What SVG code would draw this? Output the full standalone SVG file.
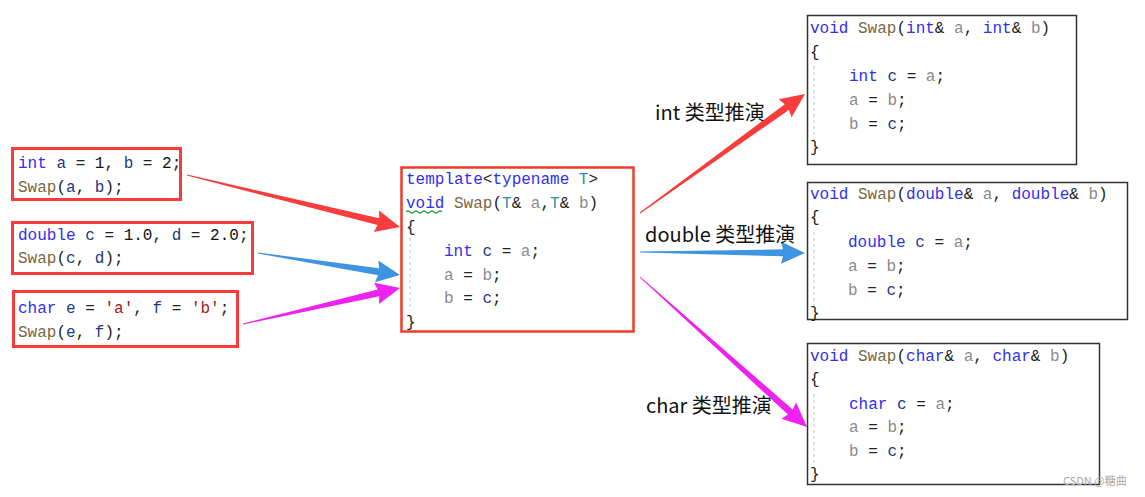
<svg xmlns="http://www.w3.org/2000/svg" width="1145" height="497" viewBox="0 0 1145 497">
<style>
.code{font-family:"Liberation Mono",monospace;font-size:16px;fill:#222;white-space:pre}
.kw{fill:#2f2ff0}
.fn{fill:#7a6642}
.lv{fill:#1f377f}
.pv{fill:#8a8a8a}
.ty{fill:#2b91af}
.st{fill:#a31515}
.num{fill:#111}
.redbox{fill:#fff;stroke:#fb3a3a;stroke-width:3}
.blkbox{fill:#fff;stroke:#333;stroke-width:1.5}
.guide{stroke:#c8c8c8;stroke-width:1;stroke-dasharray:3,3}
.lbl{font-family:"Noto Sans CJK SC","Noto Sans",sans-serif;font-size:20px;fill:#111}
</style>
<rect width="1145" height="497" fill="#fff"/>

<g id="connectors">
  <path fill="#f93c3c" transform="translate(187,175) rotate(13.72)" d="M0,-0.5 L197,-3.5 L195,-11 L219.3,0 L195,11 L197,3.5 L0,0.5 Z"/>
  <path fill="#3d95e2" transform="translate(258,253) rotate(8.81)" d="M0,-0.5 L122,-3.5 L120,-11 L143.7,0 L120,11 L122,3.5 L0,0.5 Z"/>
  <path fill="#ee22ee" transform="translate(243,324) rotate(-12.91)" d="M0,-0.5 L139,-3.5 L137,-11 L161.1,0 L137,11 L139,3.5 L0,0.5 Z"/>
  <path fill="#f93c3c" transform="translate(640,213) rotate(-35.8)" d="M0,-0.5 L181,-3.5 L179,-11 L203.4,0 L179,11 L181,3.5 L0,0.5 Z"/>
  <path fill="#3d95e2" transform="translate(640,252) rotate(0.35)" d="M0,-0.5 L143,-3.5 L141,-11 L165,0 L141,11 L143,3.5 L0,0.5 Z"/>
  <path fill="#ee22ee" transform="translate(640,277) rotate(41.93)" d="M0,-0.5 L202,-3.5 L200,-11 L224.5,0 L200,11 L202,3.5 L0,0.5 Z"/>
</g>

<g id="call-int">
  <rect class="redbox" x="12.5" y="148.5" width="168" height="51"/>
  <text class="code" x="18" y="168" xml:space="preserve"><tspan class="kw">int</tspan> <tspan class="lv">a</tspan> = <tspan class="num">1</tspan>, <tspan class="lv">b</tspan> = <tspan class="num">2</tspan>;</text>
  <text class="code" x="18" y="192" xml:space="preserve"><tspan class="fn">Swap</tspan>(<tspan class="lv">a</tspan>, <tspan class="lv">b</tspan>);</text>
</g>

<g id="call-double">
  <rect class="redbox" x="12.5" y="222.5" width="240" height="51"/>
  <text class="code" x="18" y="240" xml:space="preserve"><tspan class="kw">double</tspan> <tspan class="lv">c</tspan> = <tspan class="num">1.0</tspan>, <tspan class="lv">d</tspan> = <tspan class="num">2.0</tspan>;</text>
  <text class="code" x="18" y="263" xml:space="preserve"><tspan class="fn">Swap</tspan>(<tspan class="lv">c</tspan>, <tspan class="lv">d</tspan>);</text>
</g>

<g id="call-char">
  <rect class="redbox" x="13.5" y="291.5" width="224" height="55"/>
  <text class="code" x="18" y="313" xml:space="preserve"><tspan class="kw">char</tspan> <tspan class="lv">e</tspan> = <tspan class="st">'a'</tspan>, <tspan class="lv">f</tspan> = <tspan class="st">'b'</tspan>;</text>
  <text class="code" x="18" y="337" xml:space="preserve"><tspan class="fn">Swap</tspan>(<tspan class="lv">e</tspan>, <tspan class="lv">f</tspan>);</text>
</g>

<g id="template">
  <rect x="401.5" y="167.5" width="232" height="164" fill="#fff" stroke="#f03a2a" stroke-width="2.5"/>
  <line class="guide" x1="410" y1="238" x2="410" y2="311"/>
  <text class="code" x="406" y="184" xml:space="preserve"><tspan class="kw">template</tspan>&lt;<tspan class="kw">typename</tspan> <tspan class="ty">T</tspan>&gt;</text>
  <text class="code" x="406" y="208" xml:space="preserve"><tspan class="kw">void</tspan> <tspan class="fn">Swap</tspan>(<tspan class="ty">T</tspan>&amp; <tspan class="pv">a</tspan>,<tspan class="ty">T</tspan>&amp; <tspan class="pv">b</tspan>)</text>
  <path d="M406,212 q2,-2 4,0 t4,0 t4,0 t4,0 t4,0 t4,0 t4,0 t4,0 t4,0" fill="none" stroke="#3aa84a" stroke-width="1.2"/>
  <text class="code" x="406" y="232">{</text>
  <text class="code" x="444" y="256" xml:space="preserve"><tspan class="kw">int</tspan> <tspan class="lv">c</tspan> = <tspan class="pv">a</tspan>;</text>
  <text class="code" x="444" y="280" xml:space="preserve"><tspan class="pv">a</tspan> = <tspan class="pv">b</tspan>;</text>
  <text class="code" x="444" y="303" xml:space="preserve"><tspan class="pv">b</tspan> = <tspan class="lv">c</tspan>;</text>
  <text class="code" x="406" y="327">}</text>
</g>

<g id="labels">
  <text class="lbl" x="655" y="120">int 类型推演</text>
  <text class="lbl" x="645" y="242">double 类型推演</text>
  <text class="lbl" x="646" y="413">char 类型推演</text>
</g>

<g id="swap-int">
  <rect class="blkbox" x="807.5" y="15.5" width="269" height="149"/>
  <line class="guide" x1="814" y1="66" x2="814" y2="140"/>
  <text class="code" x="810" y="33" xml:space="preserve"><tspan class="kw">void</tspan> <tspan class="fn">Swap</tspan>(<tspan class="kw">int</tspan>&amp; <tspan class="pv">a</tspan>, <tspan class="kw">int</tspan>&amp; <tspan class="pv">b</tspan>)</text>
  <text class="code" x="810" y="57">{</text>
  <text class="code" x="849" y="81" xml:space="preserve"><tspan class="kw">int</tspan> <tspan class="lv">c</tspan> = <tspan class="pv">a</tspan>;</text>
  <text class="code" x="849" y="105" xml:space="preserve"><tspan class="pv">a</tspan> = <tspan class="pv">b</tspan>;</text>
  <text class="code" x="849" y="129" xml:space="preserve"><tspan class="pv">b</tspan> = <tspan class="lv">c</tspan>;</text>
  <text class="code" x="810" y="152">}</text>
</g>

<g id="swap-double">
  <rect class="blkbox" x="807.5" y="182.5" width="320" height="137"/>
  <line class="guide" x1="814" y1="232" x2="814" y2="306"/>
  <text class="code" x="810" y="199" xml:space="preserve"><tspan class="kw">void</tspan> <tspan class="fn">Swap</tspan>(<tspan class="kw">double</tspan>&amp; <tspan class="pv">a</tspan>, <tspan class="kw">double</tspan>&amp; <tspan class="pv">b</tspan>)</text>
  <text class="code" x="810" y="222">{</text>
  <text class="code" x="848" y="247" xml:space="preserve"><tspan class="kw">double</tspan> <tspan class="lv">c</tspan> = <tspan class="pv">a</tspan>;</text>
  <text class="code" x="848" y="271" xml:space="preserve"><tspan class="pv">a</tspan> = <tspan class="pv">b</tspan>;</text>
  <text class="code" x="848" y="295" xml:space="preserve"><tspan class="pv">b</tspan> = <tspan class="lv">c</tspan>;</text>
  <text class="code" x="810" y="318">}</text>
</g>

<g id="swap-char">
  <rect class="blkbox" x="807.5" y="343.5" width="292" height="141"/>
  <line class="guide" x1="814" y1="394" x2="814" y2="466"/>
  <text class="code" x="810" y="361" xml:space="preserve"><tspan class="kw">void</tspan> <tspan class="fn">Swap</tspan>(<tspan class="kw">char</tspan>&amp; <tspan class="pv">a</tspan>, <tspan class="kw">char</tspan>&amp; <tspan class="pv">b</tspan>)</text>
  <text class="code" x="810" y="384">{</text>
  <text class="code" x="849" y="409" xml:space="preserve"><tspan class="kw">char</tspan> <tspan class="lv">c</tspan> = <tspan class="pv">a</tspan>;</text>
  <text class="code" x="849" y="432" xml:space="preserve"><tspan class="pv">a</tspan> = <tspan class="pv">b</tspan>;</text>
  <text class="code" x="849" y="456" xml:space="preserve"><tspan class="pv">b</tspan> = <tspan class="lv">c</tspan>;</text>
  <text class="code" x="810" y="479">}</text>
</g>

<text x="1063" y="485" font-family="'Noto Sans CJK SC','Noto Sans',sans-serif" font-size="11" fill="#aaa">CSDN @糖曲</text>
</svg>
